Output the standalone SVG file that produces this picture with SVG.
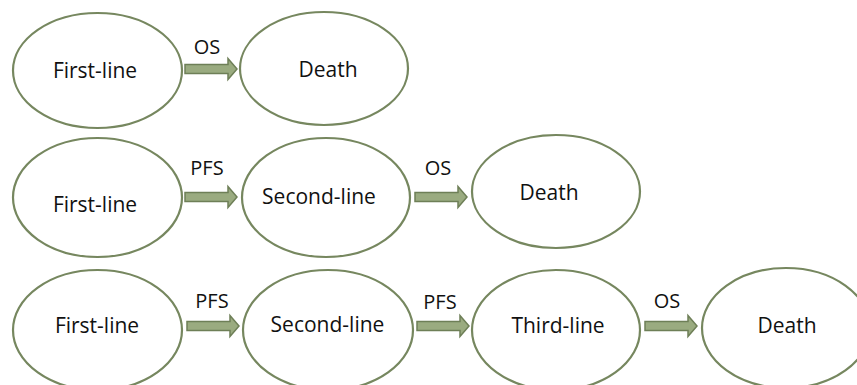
<svg xmlns="http://www.w3.org/2000/svg" width="857" height="385" viewBox="0 0 857 385">
<style>
.n{fill:#ffffff;stroke:#76875f;stroke-width:2.2}
.t{font-family:"Open Sans","Liberation Sans",sans-serif;font-size:21px;fill:#111111;text-anchor:middle}
.l{font-family:"Open Sans","Liberation Sans",sans-serif;font-size:20px;fill:#111111;text-anchor:middle}
.a{fill:#9aab80;stroke:#6e7f57;stroke-width:1.5;stroke-linejoin:miter}
</style>
<defs>
<polygon id="arr" points="0,-4.5 43,-4.5 43,-10.5 52,0 43,10.5 43,4.5 0,4.5"/>
</defs>
<rect width="857" height="385" fill="#ffffff"/>
<g id="connectors">
<use href="#arr" class="a" x="185" y="69"/>
<text class="l" x="207" y="54">OS</text>
<use href="#arr" class="a" x="185" y="197"/>
<text class="l" x="207" y="175">PFS</text>
<use href="#arr" class="a" x="415" y="197"/>
<text class="l" x="438" y="175">OS</text>
<use href="#arr" class="a" x="187" y="326"/>
<text class="l" x="212" y="308">PFS</text>
<use href="#arr" class="a" x="417" y="326"/>
<text class="l" x="440" y="309">PFS</text>
<use href="#arr" class="a" x="645" y="326"/>
<text class="l" x="667" y="308">OS</text>
</g>
<g id="r1-first"><ellipse class="n" cx="97.5" cy="70.5" rx="84.5" ry="57.5"/><text class="t" x="95" y="78">First-line</text></g>
<g id="r1-death"><ellipse class="n" cx="324" cy="68.5" rx="84" ry="56.5"/><text class="t" x="328" y="77">Death</text></g>
<g id="r2-first"><ellipse class="n" cx="97.5" cy="197.5" rx="84.5" ry="59.5"/><text class="t" x="95" y="212">First-line</text></g>
<g id="r2-second"><ellipse class="n" cx="326" cy="197.5" rx="84" ry="59.5"/><text class="t" x="319" y="204">Second-line</text></g>
<g id="r2-death"><ellipse class="n" cx="556" cy="191.5" rx="84" ry="56.5"/><text class="t" x="549" y="200">Death</text></g>
<g id="r3-first"><ellipse class="n" cx="97.5" cy="330" rx="84.5" ry="60"/><text class="t" x="97" y="333">First-line</text></g>
<g id="r3-second"><ellipse class="n" cx="328" cy="330" rx="85" ry="60"/><text class="t" x="327.5" y="332">Second-line</text></g>
<g id="r3-third"><ellipse class="n" cx="556" cy="330" rx="84" ry="60"/><text class="t" x="558" y="333">Third-line</text></g>
<g id="r3-death"><ellipse class="n" cx="786" cy="328" rx="84" ry="60"/><text class="t" x="787" y="333">Death</text></g>
</svg>
